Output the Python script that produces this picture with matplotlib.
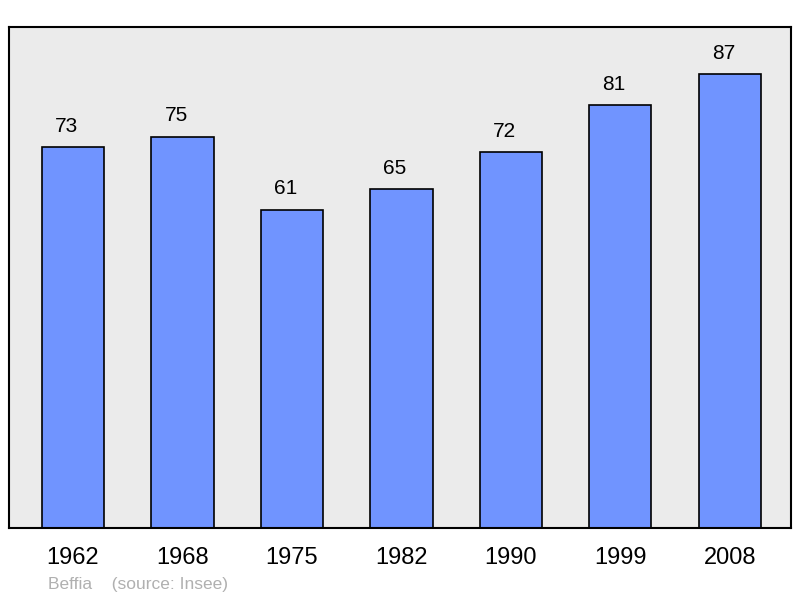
import matplotlib
matplotlib.use("Agg")
import matplotlib.pyplot as plt

years = ["1962", "1968", "1975", "1982", "1990", "1999", "2008"]
population = [73, 75, 61, 65, 72, 81, 87]

plt.rcParams['font.family'] = ['Liberation Sans', 'DejaVu Sans']

fig = plt.figure(figsize=(8, 5.98), dpi=100)
ax = fig.add_axes([9/800, 1 - 528/598, 782/800, 501/598])
ax.set_facecolor('#ebebeb')
x = list(range(len(years)))
bars = ax.bar(x, population, width=0.57, color='#7094ff', edgecolor='black', linewidth=1.2, zorder=2)
for xi, v in zip(x, population):
    ax.annotate(str(v), (xi, v), xytext=(-4.5, 11), textcoords='offset points',
                ha='center', va='baseline', fontsize=15, color='black')
ax.set_xlim(-0.585, 6.56)
ax.set_ylim(0, 96)
ax.set_yticks([])
ax.set_xticks(x)
ax.set_xticklabels(years, fontsize=17)
ax.tick_params(axis='x', length=0, pad=13.5)
for s in ax.spines.values():
    s.set_linewidth(1.5)
    s.set_color('black')
fig.text(48/800, 1 - 584/598, "Beffia    (source: Insee)", fontsize=12.5, color='#b0b0b0', va='center', ha='left')
fig.savefig("out.png", dpi=100)
